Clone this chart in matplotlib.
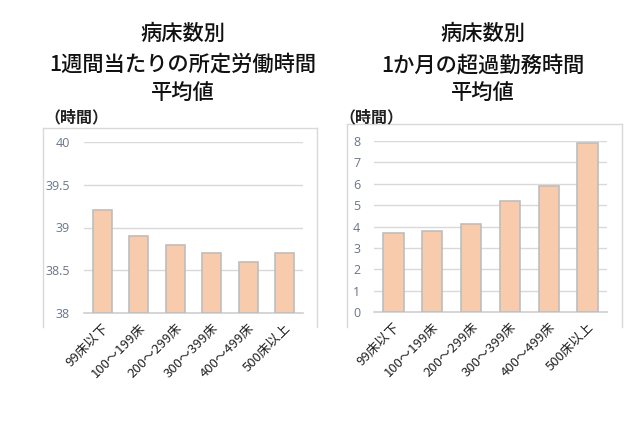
import matplotlib
matplotlib.use("Agg")
import matplotlib.pyplot as plt
from matplotlib.lines import Line2D

plt.rcParams['font.family'] = ['Noto Sans CJK JP', 'DejaVu Sans']

categories = ["99床以下", "100～199床", "200～299床", "300～399床", "400～499床", "500床以上"]
weekly_hours = [39.2, 38.9, 38.8, 38.7, 38.6, 38.7]
overtime_hours = [3.7, 3.8, 4.1, 5.2, 5.9, 7.9]
left_ticks = [38, 38.5, 39, 39.5, 40]
left_ticklabels = ["38", "38.5", "39", "39.5", "40"]
right_ticks = [0, 1, 2, 3, 4, 5, 6, 7, 8]

left_title = ["病床数別", "1週間当たりの所定労働時間", "平均値"]
right_title = ["病床数別", "1か月の超過勤務時間", "平均値"]
unit_label = "（時間）"

W, H = 642, 437
fig = plt.figure(figsize=(W / 100, H / 100), dpi=100)
fig.patch.set_facecolor('white')

BAR_FACE = '#F8CBAD'
BAR_EDGE = '#BDBDBD'
GRID = '#D9D9D9'
TICK_COLOR = '#6A7587'


def px_axes(x0, x1, ytop, ybot):
    return fig.add_axes([x0 / W, (H - ybot) / H, (x1 - x0) / W, (ybot - ytop) / H])


def box(x0, x1, ytop, ybot):
    for xs, ys in [((x0, x0), (ybot, ytop)), ((x0, x1), (ytop, ytop)), ((x1, x1), (ytop, ybot))]:
        fig.add_artist(Line2D([x / W for x in xs], [(H - y) / H for y in ys],
                              color='#D9D9D9', lw=1.0, transform=fig.transFigure))


def style(ax, values, ylim, ticks, ticklabels):
    x = range(len(categories))
    ax.bar(x, [v - ylim[0] for v in values], bottom=ylim[0], width=0.52,
           color=BAR_FACE, edgecolor=BAR_EDGE, linewidth=1.2, zorder=3)
    ax.set_xlim(-0.5, len(categories) - 0.5)
    ax.set_ylim(*ylim)
    ax.set_yticks(ticks)
    ax.set_yticklabels(ticklabels, family=['Open Sans', 'DejaVu Sans'], fontsize=9, color=TICK_COLOR)
    ax.set_xticks(list(x))
    ax.set_xticklabels(categories, rotation=45, ha='right', rotation_mode='anchor',
                       fontsize=9.5, color='#222222')
    ax.tick_params(axis='x', length=0, pad=6)
    ax.tick_params(axis='y', length=0, pad=10)
    ax.grid(axis='y', color=GRID, lw=1.0, zorder=0)
    for s in ['top', 'right', 'left']:
        ax.spines[s].set_visible(False)
    ax.spines['bottom'].set_color('#D0D0D0')
    ax.spines['bottom'].set_linewidth(1.2)
    ax.set_facecolor('none')


box(43, 317, 128, 327)
box(347, 622, 124, 327)

ax1 = px_axes(84, 303, 142, 313)
style(ax1, weekly_hours, (38, 40), left_ticks, left_ticklabels)

ax2 = px_axes(374, 607, 141, 312)
style(ax2, overtime_hours, (0, 8), right_ticks, [str(t) for t in right_ticks])

for lines, cx in [(left_title, 183), (right_title, 483)]:
    for txt, cy in zip(lines, [34, 65, 93]):
        fig.text(cx / W, (H - cy) / H, txt, ha='center', va='center', fontsize=15.3,
                 weight='medium', color='#111111')

fig.text(44 / W, (H - 117) / H, unit_label, ha='left', va='center', fontsize=11.5,
         weight='bold', color='#222222')
fig.text(339 / W, (H - 117) / H, unit_label, ha='left', va='center', fontsize=11.5,
         weight='bold', color='#222222')

fig.savefig('out.png', dpi=100, facecolor='white')
